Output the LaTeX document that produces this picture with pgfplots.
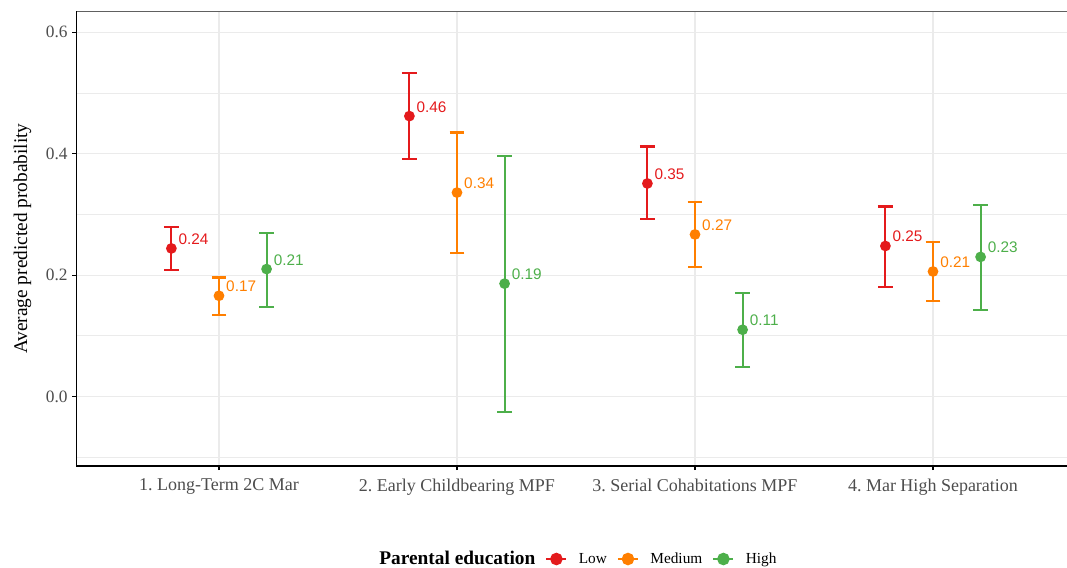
\documentclass[border=0pt]{standalone}
\usepackage{pgfplots}
\pgfplotsset{compat=1.18}
\usepackage{pgfplotstable}
\usepackage{fontspec}
\setmainfont{Liberation Serif}
\newfontfamily\labelfont{Liberation Sans}

\definecolor{cLow}{RGB}{228,26,28}
\definecolor{cMed}{RGB}{255,127,0}
\definecolor{cHigh}{RGB}{77,175,74}
\definecolor{gridc}{RGB}{235,235,235}
\definecolor{tickc}{RGB}{77,77,77}

% x = outcome index + dodge offset; y = estimate; lo/hi = confidence limits
\pgfplotstableread{
x    y      lo      hi
0.8  0.244  0.208   0.279
1.8  0.462  0.392   0.533
2.8  0.351  0.292   0.412
3.8  0.248  0.181   0.313
}\lowtab
\pgfplotstableread{
x    y      lo      hi
1.0  0.166  0.135   0.196
2.0  0.336  0.236   0.435
3.0  0.267  0.213   0.320
4.0  0.206  0.157   0.254
}\medtab
\pgfplotstableread{
x    y      lo      hi
1.2  0.210  0.148   0.270
2.2  0.186  -0.025  0.396
3.2  0.110  0.049   0.170
4.2  0.230  0.143   0.316
}\hightab

\pgfplotsset{
  ci/.style={
    color=#1, line width=1.6pt,
    only marks, mark=*, mark size=3.4pt, mark options={fill=#1, draw=#1, line width=1.2pt},
    error bars/.cd,
      y dir=both, y explicit,
      error mark=-,
      error mark options={line width=1.6pt, mark size=5.6pt, rotate=90},
      error bar style={line width=1.6pt, color=#1},
    /pgfplots/.cd,
    every error bar/.append style={line width=1.6pt},
    nodes near coords,
    point meta=y,
    every node near coord/.append style={
      font=\labelfont\fontsize{11.5}{12}\selectfont, text=#1,
      anchor=west, xshift=1.5pt, yshift=7pt,
      /pgf/number format/.cd, fixed, fixed zerofill, precision=2},
    legend image code/.code={
      \draw[#1, line width=1.6pt] (0pt,0pt) -- (15pt,0pt);
      \fill[#1] (7.5pt,0pt) circle (3.9pt);
    },
  },
}

\begin{document}
\begin{tikzpicture}
\begin{axis}[
  name=ax,
  scale only axis,
  width=743pt, height=341pt,
  xmin=0.4004, xmax=4.563,
  ymin=-0.1145, ymax=0.6346,
  xtick={1,2,3,4},
  xticklabels={1.\ Long-Term 2C Mar, 2.\ Early Childbearing MPF, 3.\ Serial Cohabitations MPF, 4.\ Mar High Separation},
  ytick={0,0.2,0.4,0.6},
  minor ytick={-0.1,0.1,0.3,0.5},
  /pgf/number format/assume math mode=true,
  yticklabel style={font=\fontsize{13}{15}\selectfont, text=tickc,
    /pgf/number format/.cd, fixed, fixed zerofill, precision=1},
  xticklabel style={font=\fontsize{13.5}{15}\selectfont, text=tickc, yshift=-3pt},
  xtick pos=bottom, ytick pos=left,
  tick align=outside,
  major tick length=3pt, minor tick length=0pt,
  tick style={black, line width=0.9pt},
  xmajorgrids, ymajorgrids, yminorgrids,
  major grid style={gridc, line width=0.9pt},
  minor grid style={gridc, line width=0.6pt},
  axis line style={draw=none},
  ylabel={Average predicted probability},
  ylabel style={font=\fontsize{14.5}{17}\selectfont, text=black, yshift=4pt},
  legend columns=4,
  legend style={
    at={(0.502,-0.2045)}, anchor=center, draw=none, fill=none,
    font=\fontsize{11.5}{13}\selectfont,
    /tikz/every even column/.append style={column sep=5.5pt},
    /tikz/every odd column/.append style={column sep=6.5pt},
  },
  clip=false,
]
\addlegendimage{empty legend}
\addlegendentry{\fontsize{14.5}{16}\selectfont\bfseries Parental education\hspace{-4pt}}

\addplot+[ci=cLow] table[x=x, y=y, y error plus expr=\thisrow{hi}-\thisrow{y}, y error minus expr=\thisrow{y}-\thisrow{lo}] {\lowtab};
\addlegendentry{Low}
\addplot+[ci=cMed] table[x=x, y=y, y error plus expr=\thisrow{hi}-\thisrow{y}, y error minus expr=\thisrow{y}-\thisrow{lo}] {\medtab};
\addlegendentry{Medium}
\addplot+[ci=cHigh] table[x=x, y=y, y error plus expr=\thisrow{hi}-\thisrow{y}, y error minus expr=\thisrow{y}-\thisrow{lo}] {\hightab};
\addlegendentry{High}

% panel border: grey top edge, black left and bottom axis lines
\draw[gray!75!black, line width=0.6pt] (rel axis cs:0,1) -- (rel axis cs:1,1);
\draw[black, line width=1.1pt] (rel axis cs:0,1) -- (rel axis cs:0,0) -- (rel axis cs:1,0);
\end{axis}
\pgfresetboundingbox
\path ([shift={(-57.2pt,-75.75pt)}]ax.south west) rectangle ([shift={(0pt,8.5pt)}]ax.north east);
\end{tikzpicture}
\end{document}
